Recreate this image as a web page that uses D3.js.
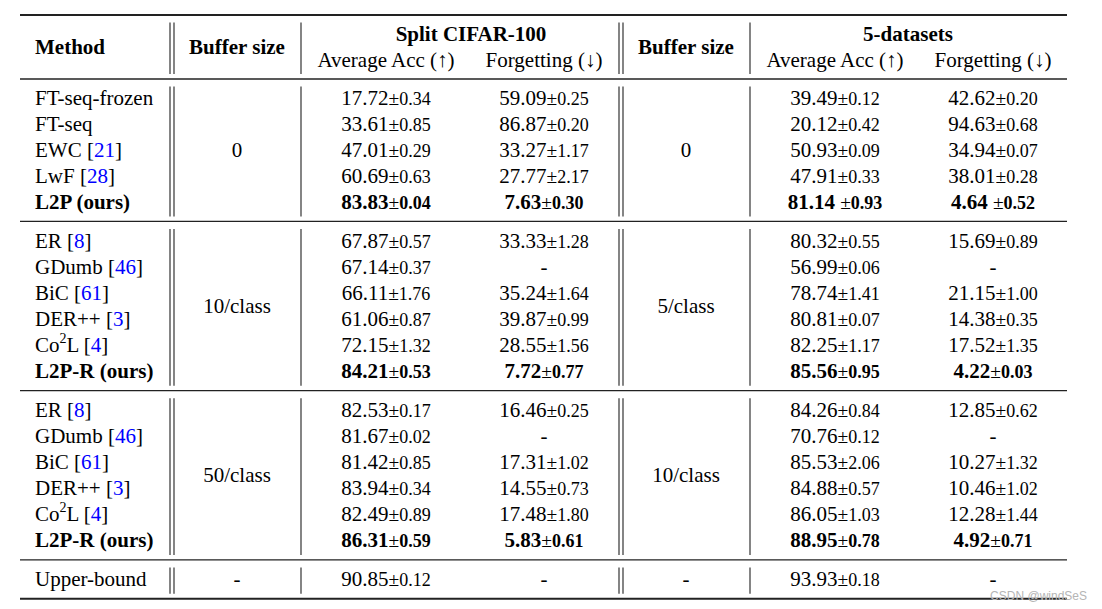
<!DOCTYPE html>
<html>
<head>
<meta charset="utf-8">
<script src="https://cdn.jsdelivr.net/npm/d3@7"></script>
<style>
  html, body { margin: 0; padding: 0; background: #fff; }
  svg { display: block; }
</style>
</head>
<body>
<script>
// ---------- data ----------
const methods = ["FT-seq-frozen","FT-seq","EWC","LwF","L2P (ours)",
  "ER","GDumb","BiC","DER++","Co2L","L2P-R (ours)",
  "ER","GDumb","BiC","DER++","Co2L","L2P-R (ours)",
  "Upper-bound"];
const cites = ["","","21","28","","8","46","61","3","4","","8","46","61","3","4","",""];
const groupOf = [0,0,0,0,0,1,1,1,1,1,1,2,2,2,2,2,2,3];
const boldRows = [4,10,16];
const fiveSpacedRows = [4];
const cifarBuffer = ["0","10/class","50/class","-"];
const fiveBuffer = ["0","5/class","10/class","-"];
const cifarAcc    = [17.72,33.61,47.01,60.69,83.83,67.87,67.14,66.11,61.06,72.15,84.21,82.53,81.67,81.42,83.94,82.49,86.31,90.85];
const cifarAccStd = [0.34,0.85,0.29,0.63,0.04,0.57,0.37,1.76,0.87,1.32,0.53,0.17,0.02,0.85,0.34,0.89,0.59,0.12];
const cifarForg    = [59.09,86.87,33.27,27.77,7.63,33.33,null,35.24,39.87,28.55,7.72,16.46,null,17.31,14.55,17.48,5.83,null];
const cifarForgStd = [0.25,0.20,1.17,2.17,0.30,1.28,null,1.64,0.99,1.56,0.77,0.25,null,1.02,0.73,1.80,0.61,null];
const fiveAcc    = [39.49,20.12,50.93,47.91,81.14,80.32,56.99,78.74,80.81,82.25,85.56,84.26,70.76,85.53,84.88,86.05,88.95,93.93];
const fiveAccStd = [0.12,0.42,0.09,0.33,0.93,0.55,0.06,1.41,0.07,1.17,0.95,0.84,0.12,2.06,0.57,1.03,0.78,0.18];
const fiveForg    = [42.62,94.63,34.94,38.01,4.64,15.69,null,21.15,14.38,17.52,4.22,12.85,null,10.27,10.46,12.28,4.92,null];
const fiveForgStd = [0.20,0.68,0.07,0.28,0.52,0.89,null,1.00,0.35,1.35,0.03,0.62,null,1.32,1.02,1.44,0.71,null];
const headerTop = ["Split CIFAR-100","5-datasets"];
const headerSub = ["Average Acc (\u2191)","Forgetting (\u2193)"];

// ---------- layout ----------
const W = 1102, H = 609;
const FONT = "'Liberation Serif','Times New Roman',Times,serif";
const MAIN = 21, SMALL = 18, PM = 19.5;
const fmt = d3.format(".2f");

const svg = d3.select("body").append("svg")
  .attr("width", W).attr("height", H)
  .style("font-family", FONT);

const colKeys = ["method","buf1","cAcc","cForg","buf2","fAcc","fForg"];
const x = d3.scaleOrdinal().domain(colKeys).range([35,237,386,544,686,835,993]);
const slotOf = i => i + groupOf[i] * 0.485;
const y = d3.scaleLinear().domain([0, 1]).range([104.5, 130.6]);

const lineColor = "#222";
const xLeft = 20, xRight = 1067;

// horizontal rules
const nGroups = 4;
const groupLast = d3.range(nGroups).map(g => d3.max(d3.range(methods.length).filter(i => groupOf[i] === g)));
const rules = [15, 79].concat(groupLast.map(i => y(slotOf(i) + 0.5) - 0.5));
rules.forEach((ry, k) => {
  svg.append("line")
    .attr("x1", xLeft).attr("x2", xRight)
    .attr("y1", ry).attr("y2", ry)
    .attr("stroke", lineColor)
    .attr("stroke-width", (k === 0 || k === rules.length - 1) ? 1.8 : 1.3);
});

// vertical lines
const vx = [170, 174, 301, 619, 623, 750];
for (let k = 0; k < rules.length - 1; k++) {
  vx.forEach(vxx => {
    svg.append("line")
      .attr("x1", vxx).attr("x2", vxx)
      .attr("y1", rules[k] + 7.5).attr("y2", rules[k + 1] - 5)
      .attr("stroke", "#333").attr("stroke-width", 1.2);
  });
}

// header
const hdr = svg.append("g").attr("font-size", MAIN).attr("fill", "#000");
hdr.append("text").attr("x", x("method")).attr("y", 54).attr("font-weight", "bold").text("Method");
hdr.append("text").attr("x", x("buf1")).attr("y", 54).attr("text-anchor", "middle").attr("font-weight", "bold").text("Buffer size");
hdr.append("text").attr("x", x("buf2")).attr("y", 54).attr("text-anchor", "middle").attr("font-weight", "bold").text("Buffer size");
hdr.append("text").attr("x", (x("cAcc") + x("cForg")) / 2 + 6).attr("y", 41).attr("text-anchor", "middle").attr("font-weight", "bold").text(headerTop[0]);
hdr.append("text").attr("x", (x("fAcc") + x("fForg")) / 2 - 6).attr("y", 41).attr("text-anchor", "middle").attr("font-weight", "bold").text(headerTop[1]);
[["cAcc",0],["cForg",1],["fAcc",0],["fForg",1]].forEach(([c, k]) => {
  hdr.append("text").attr("x", x(c)).attr("y", 67).attr("text-anchor", "middle").text(headerSub[k]);
});

// body
const body = svg.append("g").attr("font-size", MAIN).attr("fill", "#000");
methods.forEach((m, i) => {
  const bold = boldRows.includes(i);
  const t = body.append("text").attr("x", x("method")).attr("y", y(slotOf(i)))
    .attr("font-weight", bold ? "bold" : "normal");
  if (m === "Co2L") {
    t.append("tspan").text("Co");
    t.append("tspan").attr("dy", -9).attr("font-size", 14).text("2");
    t.append("tspan").attr("dy", 9).text("L");
  } else {
    t.append("tspan").text(m);
  }
  if (cites[i]) {
    t.append("tspan").text(" [");
    t.append("tspan").attr("fill", "#0000ff").text(cites[i]);
    t.append("tspan").text("]");
  }
});

// buffer cells (vertically centered per group)
d3.range(nGroups).forEach(g => {
  const idx = d3.range(methods.length).filter(i => groupOf[i] === g);
  const yc = y(d3.mean(idx, slotOf));
  body.append("text").attr("x", x("buf1")).attr("y", yc).attr("text-anchor", "middle").text(cifarBuffer[g]);
  body.append("text").attr("x", x("buf2")).attr("y", yc).attr("text-anchor", "middle").text(fiveBuffer[g]);
});

// value cells
function cell(col, vals, stds, spaced) {
  vals.forEach((v, i) => {
    const bold = boldRows.includes(i);
    const t = body.append("text").attr("x", x(col)).attr("y", y(slotOf(i))).attr("text-anchor", "middle");
    if (v === null) { t.text("-"); return; }
    t.append("tspan").attr("font-weight", bold ? "bold" : "normal").text(fmt(v) + (spaced.includes(i) ? " " : ""));
    t.append("tspan").attr("font-size", PM).text("\u00b1");
    t.append("tspan").attr("font-size", SMALL).attr("font-weight", bold ? "bold" : "normal").text(fmt(stds[i]));
  });
}
cell("cAcc", cifarAcc, cifarAccStd, []);
cell("cForg", cifarForg, cifarForgStd, []);
cell("fAcc", fiveAcc, fiveAccStd, fiveSpacedRows);
cell("fForg", fiveForg, fiveForgStd, fiveSpacedRows);

// watermark
svg.append("text").attr("x", 1087).attr("y", 600).attr("text-anchor", "end")
  .attr("font-family", "'Liberation Sans',Arial,sans-serif").attr("font-size", 12)
  .attr("fill", "#b5b5b5").text("CSDN @windSeS");
</script>
</body>
</html>
